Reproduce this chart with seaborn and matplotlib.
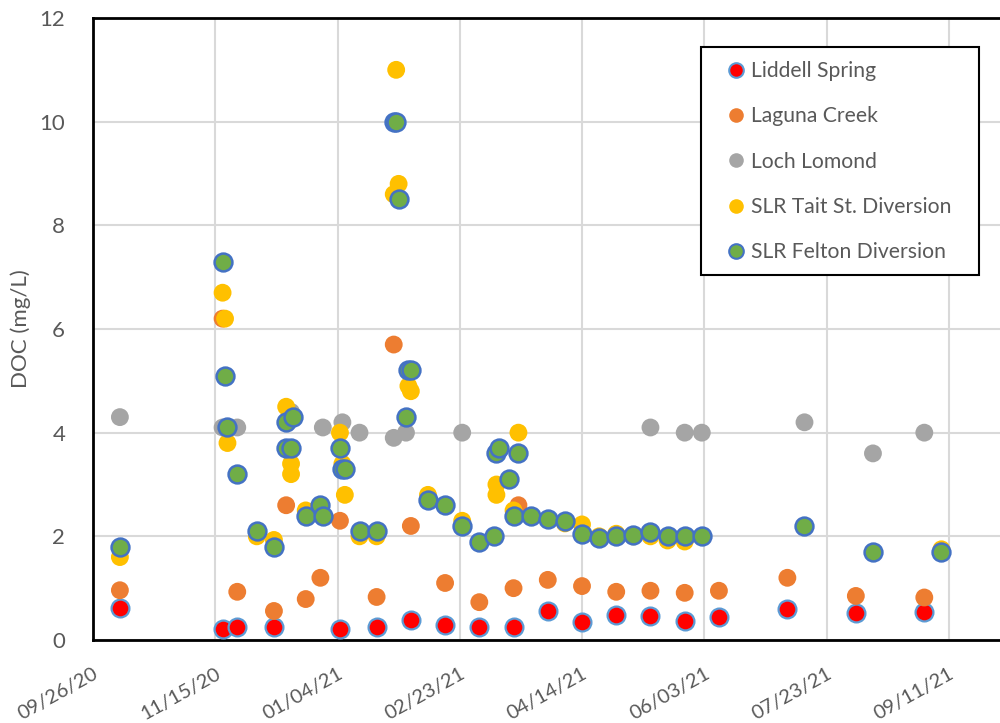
import matplotlib
matplotlib.use("Agg")
import matplotlib.pyplot as plt
import matplotlib.dates as mdates
from matplotlib.patches import Rectangle
import seaborn as sns
import pandas as pd
import numpy as np

# ---------------- data ----------------
liddell_dates = ["2020-10-07", "2020-11-18", "2020-11-24", "2020-12-09", "2021-01-05", "2021-01-20",
                 "2021-02-03", "2021-02-17", "2021-03-03", "2021-03-17", "2021-03-31", "2021-04-14",
                 "2021-04-28", "2021-05-12", "2021-05-26", "2021-06-09", "2021-07-07", "2021-08-04",
                 "2021-09-01"]
liddell_vals = [0.62, 0.21, 0.25, 0.25, 0.21, 0.25, 0.39, 0.29, 0.25, 0.26, 0.56, 0.35,
                0.48, 0.47, 0.37, 0.44, 0.6, 0.52, 0.54]

laguna_dates = ["2020-10-07", "2020-11-18", "2020-11-24", "2020-12-09", "2020-12-14", "2020-12-22",
                "2020-12-28", "2021-01-05", "2021-01-20", "2021-01-27", "2021-02-03", "2021-02-17",
                "2021-03-03", "2021-03-17", "2021-03-19", "2021-03-31", "2021-04-14", "2021-04-28",
                "2021-05-12", "2021-05-26", "2021-06-09", "2021-07-07", "2021-08-04", "2021-09-01"]
laguna_vals = [0.96, 6.2, 0.93, 0.56, 2.6, 0.79, 1.2, 2.3, 0.83, 5.7, 2.2, 1.1,
               0.73, 1.0, 2.6, 1.16, 1.04, 0.93, 0.95, 0.91, 0.95, 1.2, 0.85, 0.82]

loch_dates = ["2020-10-07", "2020-11-18", "2020-11-24", "2020-12-16", "2020-12-29", "2021-01-06",
              "2021-01-13", "2021-01-27", "2021-02-01", "2021-02-24", "2021-05-12", "2021-05-26",
              "2021-06-02", "2021-07-14", "2021-08-11", "2021-09-01"]
loch_vals = [4.3, 4.1, 4.1, 4.4, 4.1, 4.2, 4.0, 3.9, 4.0, 4.0, 4.1, 4.0,
             4.0, 4.2, 3.6, 4.0]

tait_dates = ["2020-10-07", "2020-11-18", "2020-11-19", "2020-11-20", "2020-12-02", "2020-12-09",
              "2020-12-14", "2020-12-16", "2020-12-16", "2020-12-22", "2021-01-05", "2021-01-06",
              "2021-01-07", "2021-01-13", "2021-01-20", "2021-01-27", "2021-01-28", "2021-01-29",
              "2021-02-02", "2021-02-03", "2021-02-10", "2021-02-24", "2021-03-10", "2021-03-10",
              "2021-03-17", "2021-03-19", "2021-03-31", "2021-04-07", "2021-04-14", "2021-04-21",
              "2021-04-28", "2021-05-05", "2021-05-12", "2021-05-19", "2021-05-26", "2021-06-02",
              "2021-09-08"]
tait_vals = [1.6, 6.7, 6.2, 3.8, 2.0, 1.93, 4.5, 3.4, 3.2, 2.5, 4.0, 3.4,
             2.8, 2.0, 2.0, 8.6, 11.0, 8.8, 4.9, 4.8, 2.8, 2.3, 2.8, 3.0,
             2.5, 4.0, 2.33, 2.25, 2.23, 2.0, 2.05, 2.0, 2.0, 1.92, 1.9, 2.0,
             1.75]

felton_dates = ["2020-10-07", "2020-11-18", "2020-11-19", "2020-11-20", "2020-11-24", "2020-12-02",
                "2020-12-09", "2020-12-14", "2020-12-17", "2020-12-14", "2020-12-16", "2020-12-22",
                "2020-12-28", "2020-12-29", "2021-01-05", "2021-01-06", "2021-01-07", "2021-01-13",
                "2021-01-20", "2021-01-27", "2021-01-28", "2021-01-29", "2021-02-01", "2021-02-02",
                "2021-02-03", "2021-02-10", "2021-02-17", "2021-02-24", "2021-03-03", "2021-03-09",
                "2021-03-10", "2021-03-11", "2021-03-15", "2021-03-17", "2021-03-19", "2021-03-24",
                "2021-03-31", "2021-04-07", "2021-04-14", "2021-04-21", "2021-04-28", "2021-05-05",
                "2021-05-12", "2021-05-19", "2021-05-26", "2021-06-02", "2021-07-14", "2021-08-11",
                "2021-09-08"]
felton_vals = [1.8, 7.3, 5.1, 4.1, 3.2, 2.1, 1.8, 4.2, 4.3, 3.7, 3.7, 2.4,
               2.6, 2.4, 3.7, 3.3, 3.3, 2.1, 2.1, 10.0, 10.0, 8.5, 4.3, 5.2,
               5.2, 2.7, 2.6, 2.2, 1.9, 2.0, 3.6, 3.7, 3.1, 2.4, 3.6, 2.4,
               2.33, 2.3, 2.05, 1.97, 2.0, 2.02, 2.08, 2.0, 2.0, 2.0, 2.2, 1.7,
               1.7]

series_names = ["Liddell Spring", "Laguna Creek", "Loch Lomond", "SLR Tait St. Diversion", "SLR Felton Diversion"]
tick_dates = ["2020-09-26", "2020-11-15", "2021-01-04", "2021-02-23", "2021-04-14",
              "2021-06-03", "2021-07-23", "2021-09-11"]
y_ticks = [0, 2, 4, 6, 8, 10, 12]

# ---------------- build table ----------------
frames = []
for name, d, v in zip(series_names,
                      [liddell_dates, laguna_dates, loch_dates, tait_dates, felton_dates],
                      [liddell_vals, laguna_vals, loch_vals, tait_vals, felton_vals]):
    frames.append(pd.DataFrame({"date": pd.to_datetime(d), "DOC": v, "site": name}))
df = pd.concat(frames, ignore_index=True)

styles = {
    "Liddell Spring": dict(color="#FF0000", edgecolor="#5B9BD5", linewidth=1.6),
    "Laguna Creek": dict(color="#ED7D31", edgecolor="none", linewidth=0),
    "Loch Lomond": dict(color="#A5A5A5", edgecolor="none", linewidth=0),
    "SLR Tait St. Diversion": dict(color="#FFC000", edgecolor="none", linewidth=0),
    "SLR Felton Diversion": dict(color="#70AD47", edgecolor="#4472C4", linewidth=1.8),
}

# ---------------- plot ----------------
sns.set_theme(style="white")
plt.rcParams["font.family"] = ["Lato", "DejaVu Sans"]

W, H = 1000, 723
fig = plt.figure(figsize=(10, 7.23), dpi=100)
ax = fig.add_axes([0.093, 83 / H, 0.978, 622 / H])

base = pd.Timestamp("2020-09-26")
ax.set_xlim(mdates.date2num(base), mdates.date2num(base + pd.Timedelta(days=400)))
ax.set_ylim(0, 12)

for name in series_names:
    sub = df[df["site"] == name]
    st = styles[name]
    sns.scatterplot(data=sub, x="date", y="DOC", ax=ax, s=165, color=st["color"],
                    edgecolor=st["edgecolor"], linewidth=st["linewidth"], label=name,
                    zorder=3, legend=False)

ax.set_xticks([mdates.date2num(pd.Timestamp(t)) for t in tick_dates])
ax.xaxis.set_major_formatter(mdates.DateFormatter("%m/%d/%y"))
ax.set_yticks(y_ticks)
ax.grid(True, color="#D9D9D9", linewidth=1.5, zorder=0)
ax.set_axisbelow(True)

for lab in ax.get_xticklabels():
    lab.set_rotation(29)
    lab.set_ha("right")
    lab.set_rotation_mode("anchor")
ax.tick_params(axis="x", labelsize=14.5, colors="#595959", length=0, pad=18)
ax.tick_params(axis="y", labelsize=16, colors="#595959", length=0, pad=20)
ax.set_xlabel("")
ax.set_ylabel("DOC (mg/L)", fontsize=16, color="#595959", labelpad=6)

for side in ["left", "bottom", "top", "right"]:
    ax.spines[side].set_color("black")
    ax.spines[side].set_linewidth(2)

# legend box (drawn as a figure rectangle) and entries
box = Rectangle((701 / W, 1 - 275 / H), (979 - 701) / W, (275 - 47) / H,
                transform=fig.transFigure, facecolor="white", edgecolor="black",
                linewidth=1.5, zorder=9)
fig.patches.append(box)

handles = []
for name in series_names:
    st = styles[name]
    h = plt.Line2D([], [], marker="o", linestyle="none", markersize=10.5,
                   markerfacecolor=st["color"],
                   markeredgecolor=st["edgecolor"] if st["edgecolor"] != "none" else st["color"],
                   markeredgewidth=1.5 if st["edgecolor"] != "none" else 0)
    handles.append(h)
leg = fig.legend(handles, series_names, loc="upper left", bbox_to_anchor=(728 / W, 1 - 61 / H),
                 bbox_transform=fig.transFigure, frameon=False,
                 fontsize=15.2, labelspacing=1.2, handlelength=0.8, handletextpad=0.3,
                 borderpad=0, borderaxespad=0, labelcolor="#595959")
leg.set_zorder(10)

fig.savefig("out.png", dpi=100)
